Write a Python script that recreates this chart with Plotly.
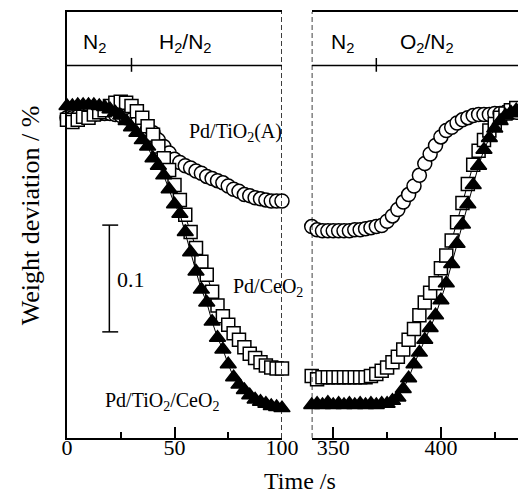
import plotly.graph_objects as go

# ---- data (weight deviation, %) ----
t_left = [i * 2.5 for i in range(41)]            # 0 ... 100 s
t_right = [340 + i * 2.5 for i in range(39)]     # 340 ... 435 s

tio2_left = [-0.010, -0.010, -0.009, -0.008, -0.007, -0.007, -0.006, -0.006, -0.006, -0.007,
             -0.008, -0.010, -0.012, -0.015, -0.018, -0.021, -0.024, -0.031, -0.037, -0.043,
             -0.049, -0.052, -0.055, -0.057, -0.060, -0.062, -0.065, -0.067, -0.069, -0.071,
             -0.074, -0.077, -0.079, -0.082, -0.083, -0.085, -0.086, -0.087, -0.088, -0.088, -0.088]
ceo2_left = [-0.012, -0.014, -0.012, -0.009, -0.010, -0.007, -0.005, -0.003, 0.001, 0.004,
             0.005, 0.004, 0.001, -0.004, -0.010, -0.018, -0.026, -0.037, -0.048, -0.059,
             -0.073, -0.087, -0.101, -0.117, -0.132, -0.145, -0.157, -0.173, -0.186, -0.196,
             -0.204, -0.212, -0.218, -0.225, -0.231, -0.235, -0.239, -0.242, -0.244, -0.245, -0.245]
tic_left = [0.001, 0.001, 0.002, 0.002, 0.002, 0.002, 0.001, 0.000, -0.002, -0.005,
            -0.008, -0.013, -0.019, -0.024, -0.031, -0.037, -0.048, -0.055, -0.064, -0.077,
            -0.091, -0.100, -0.117, -0.136, -0.154, -0.171, -0.183, -0.201, -0.216, -0.227,
            -0.241, -0.253, -0.260, -0.265, -0.270, -0.274, -0.276, -0.278, -0.280, -0.281, -0.282]

tio2_right = [-0.112, -0.115, -0.116, -0.116, -0.116, -0.116, -0.116, -0.116, -0.115, -0.115,
              -0.114, -0.113, -0.112, -0.111, -0.107, -0.102, -0.096, -0.089, -0.082, -0.074,
              -0.064, -0.053, -0.044, -0.036, -0.028, -0.022, -0.019, -0.015, -0.012, -0.010,
              -0.008, -0.007, -0.007, -0.007, -0.006, -0.006, -0.005, -0.005, -0.005]
ceo2_right = [-0.252, -0.255, -0.253, -0.253, -0.253, -0.253, -0.253, -0.253, -0.253, -0.253,
              -0.253, -0.252, -0.250, -0.247, -0.244, -0.239, -0.234, -0.227, -0.218, -0.208,
              -0.195, -0.183, -0.174, -0.165, -0.151, -0.139, -0.125, -0.108, -0.090, -0.072,
              -0.054, -0.041, -0.031, -0.022, -0.016, -0.010, -0.006, -0.003, -0.001]
tic_right = [-0.279, -0.278, -0.279, -0.277, -0.279, -0.278, -0.279, -0.278, -0.279, -0.278,
             -0.279, -0.278, -0.279, -0.278, -0.278, -0.275, -0.272, -0.264, -0.254, -0.241,
             -0.230, -0.218, -0.207, -0.195, -0.181, -0.165, -0.147, -0.128, -0.110, -0.091,
             -0.073, -0.055, -0.040, -0.029, -0.020, -0.013, -0.008, -0.005, -0.003]

left_ticks = [0, 50, 100]
left_minor = [25, 75]
right_ticks = [350, 400]
right_minor = [375, 425]

SERIF = "Liberation Serif"
SANS = "Liberation Sans"

Y0, Y1 = -0.310, 0.089
YSEP = 0.039
XL = [0, 100]
XR = [340, 435.8]

fig = go.Figure()

def add(x, y, xa, symbol, fill, size):
    fig.add_trace(go.Scatter(
        x=x, y=y, xaxis=xa, yaxis="y", mode="lines+markers", cliponaxis=False,
        line=dict(color="black", width=1),
        marker=dict(symbol=symbol, size=size, color=fill,
                    line=dict(color="black", width=1.5)),
        showlegend=False, hoverinfo="skip"))

for xa, tt, a, b, c in [("x", t_left, tio2_left, ceo2_left, tic_left),
                        ("x2", t_right, tio2_right, ceo2_right, tic_right)]:
    add(tt, a, xa, "circle", "white", 14)
    add(tt, b, xa, "square", "white", 13)
    add(tt, c, xa, "triangle-up", "black", 14)

shapes = []
# dashed break lines
shapes.append(dict(type="line", xref="x", yref="y", x0=100, x1=100, y0=Y0, y1=Y1,
                   line=dict(color="black", width=1.5, dash="5px,3px")))
shapes.append(dict(type="line", xref="x2", yref="y", x0=XR[0], x1=XR[0], y0=Y0, y1=Y1,
                   line=dict(color="black", width=1.5, dash="5px,3px")))
# gas strip separators
shapes.append(dict(type="line", xref="x", yref="y", x0=XL[0], x1=XL[1], y0=YSEP, y1=YSEP,
                   line=dict(color="black", width=1.5)))
shapes.append(dict(type="line", xref="x2", yref="y", x0=XR[0], x1=XR[1], y0=YSEP, y1=YSEP,
                   line=dict(color="black", width=1.5)))
shapes.append(dict(type="line", xref="x", yref="y", x0=30, x1=30, y0=0.033, y1=0.046,
                   line=dict(color="black", width=1.5)))
shapes.append(dict(type="line", xref="x2", yref="y", x0=370, x1=370, y0=0.033, y1=0.046,
                   line=dict(color="black", width=1.5)))
# scale bar 0.1
shapes.append(dict(type="line", xref="x", yref="y", x0=19.7, x1=19.7, y0=-0.2106, y1=-0.1106,
                   line=dict(color="black", width=1.5)))
for yy in (-0.2106, -0.1106):
    shapes.append(dict(type="line", xref="x", yref="y", x0=16.4, x1=23.8, y0=yy, y1=yy,
                       line=dict(color="black", width=1.5)))

ann = []
def text(x, y, s, xref="x", size=20, font=SERIF, **kw):
    ann.append(dict(x=x, y=y, xref=xref, yref="y", text=s, showarrow=False,
                    xanchor="center", yanchor="middle",
                    font=dict(family=font, size=size, color="black"), **kw))

text(13, 0.060, "N<sub>2</sub>", font=SANS, size=21)
text(55.3, 0.060, "H<sub>2</sub>/N<sub>2</sub>", font=SANS, size=21)
text(354.5, 0.060, "N<sub>2</sub>", xref="x2", font=SANS, size=21)
text(393.5, 0.060, "O<sub>2</sub>/N<sub>2</sub>", xref="x2", font=SANS, size=21)
text(78.6, -0.024, "Pd/TiO<sub>2</sub>(A)")
text(93.5, -0.169, "Pd/CeO<sub>2</sub>")
text(44.2, -0.276, "Pd/TiO<sub>2</sub>/CeO<sub>2</sub>")
text(29.8, -0.162, "0.1", size=22)

ann.append(dict(x=0.517, y=-0.1, xref="paper", yref="paper", text="Time /s",
                xanchor="center", yanchor="middle",
                showarrow=False, font=dict(family=SERIF, size=24, color="black")))
ann.append(dict(x=-0.082, y=0.523, xref="paper", yref="paper", text="Weight deviation / %",
                xanchor="center", yanchor="middle",
                showarrow=False, textangle=-90, font=dict(family=SERIF, size=26, color="black")))

axis_common = dict(showline=True, linecolor="black", linewidth=1.5, mirror=True,
                   ticks="inside", ticklen=11, tickwidth=1.5, tickcolor="black",
                   showgrid=False, zeroline=False, automargin=False,
                   ticklabelstandoff=-11,
                   tickfont=dict(family=SERIF, size=22, color="black"))

fig.update_layout(
    width=518, height=494, autosize=False,
    margin=dict(l=67, r=0, t=12, b=56, pad=0, autoexpand=False),
    paper_bgcolor="white", plot_bgcolor="white",
    shapes=shapes, annotations=ann, showlegend=False,
    xaxis=dict(domain=[0, 0.4767], range=XL, tickvals=left_ticks, anchor="y",
               minor=dict(tickvals=left_minor, ticks="inside", ticklen=6,
                          tickwidth=1.5, tickcolor="black", showgrid=False),
               **axis_common),
    xaxis2=dict(domain=[0.5426, 1], range=XR, tickvals=right_ticks, anchor="y",
                minor=dict(tickvals=right_minor, ticks="inside", ticklen=6,
                           tickwidth=1.5, tickcolor="black", showgrid=False),
                **axis_common),
    yaxis=dict(domain=[0, 1], range=[Y0, Y1], showline=True, linecolor="black",
               linewidth=1.5, ticks="", showticklabels=False, showgrid=False,
               zeroline=False, anchor="x", automargin=False),
)

fig.write_html("out.html")
